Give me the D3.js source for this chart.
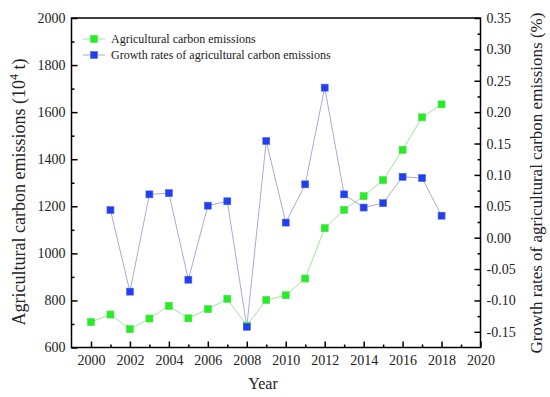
<!DOCTYPE html>
<html>
<head>
<meta charset="utf-8">
<script src="https://cdn.jsdelivr.net/npm/d3@7"></script>
<style>
  body { margin: 0; background: #fff; }
  svg { font-family: "Liberation Serif", "Times New Roman", serif; }
  .axis path { display: none; }
  .axis line { stroke: #000; stroke-width: 1.5; }
  .axis text { font-size: 14px; fill: #222; font-family: "Liberation Serif", serif; }
</style>
</head>
<body>
<svg class="chart" width="550" height="397"></svg>
<script>
var years = [2000, 2001, 2002, 2003, 2004, 2005, 2006, 2007, 2008, 2009,
             2010, 2011, 2012, 2013, 2014, 2015, 2016, 2017, 2018];
var emissions = [708, 740, 678, 723, 777, 724, 763, 807, 693, 802,
                 822, 893, 1107, 1185, 1243, 1311, 1440, 1578, 1633];
var growthYears = [2001, 2002, 2003, 2004, 2005, 2006, 2007, 2008, 2009,
                   2010, 2011, 2012, 2013, 2014, 2015, 2016, 2017, 2018];
var growth = [0.044, -0.086, 0.069, 0.071, -0.067, 0.051, 0.058, -0.142, 0.154,
              0.024, 0.085, 0.239, 0.069, 0.048, 0.055, 0.097, 0.095, 0.035];

var xTicks = [2000, 2002, 2004, 2006, 2008, 2010, 2012, 2014, 2016, 2018, 2020];
var leftTicks = [600, 800, 1000, 1200, 1400, 1600, 1800, 2000];
var rightTicks = [-0.15, -0.10, -0.05, 0.00, 0.05, 0.10, 0.15, 0.20, 0.25, 0.30, 0.35];

var seriesNames = ["Agricultural carbon emissions",
                   "Growth rates of agricultural carbon emissions"];

var svg = d3.select(".chart");
var pLeft = 71.5, pRight = 480.5, pTop = 18, pBottom = 347.5;

var x = d3.scaleLinear().domain([1999, 2020]).range([pLeft, pRight]);
var yL = d3.scaleLinear().domain([600, 2000]).range([pBottom, pTop]);
var yR = d3.scaleLinear().domain([-0.175, 0.35]).range([pBottom, pTop]);

var fmtR = function(d) { return Math.abs(d) < 1e-9 ? "0.00" : d.toFixed(2); };

// minor ticks
svg.append("g").attr("class", "axis")
    .attr("transform", "translate(0," + pBottom + ")")
    .call(d3.axisBottom(x).tickValues(d3.range(2001, 2020, 2)).tickSize(-3).tickFormat(""));
svg.append("g").attr("class", "axis")
    .attr("transform", "translate(" + pLeft + ",0)")
    .call(d3.axisLeft(yL).tickValues(d3.range(700, 2000, 200)).tickSize(-3).tickFormat(""));
svg.append("g").attr("class", "axis")
    .attr("transform", "translate(" + pRight + ",0)")
    .call(d3.axisRight(yR).tickValues(d3.range(-0.125, 0.35, 0.05)).tickSize(-3).tickFormat(""));

// major ticks
svg.append("g").attr("class", "axis")
    .attr("transform", "translate(0," + pBottom + ")")
    .call(d3.axisBottom(x).tickValues(xTicks).tickSize(-6).tickPadding(8).tickFormat(d3.format("d")));
svg.append("g").attr("class", "axis")
    .attr("transform", "translate(" + pLeft + ",0)")
    .call(d3.axisLeft(yL).tickValues(leftTicks).tickSize(-6).tickPadding(6).tickFormat(d3.format("d")));
svg.append("g").attr("class", "axis")
    .attr("transform", "translate(" + pRight + ",0)")
    .call(d3.axisRight(yR).tickValues(rightTicks).tickSize(-6).tickPadding(6).tickFormat(fmtR));

// frame
svg.append("rect")
    .attr("x", pLeft).attr("y", pTop)
    .attr("width", pRight - pLeft).attr("height", pBottom - pTop)
    .attr("fill", "none").attr("stroke", "#000").attr("stroke-width", 1.5);

// lines
var lineL = d3.line().x(function(d, i) { return x(years[i]); }).y(function(d) { return yL(d); });
var lineR = d3.line().x(function(d, i) { return x(growthYears[i]); }).y(function(d) { return yR(d); });

svg.append("path").datum(emissions).attr("d", lineL)
    .attr("fill", "none").attr("stroke", "#9fe59f").attr("stroke-width", 1);
svg.append("path").datum(growth).attr("d", lineR)
    .attr("fill", "none").attr("stroke", "#a6add6").attr("stroke-width", 1);

var s = 7;
svg.append("g").selectAll("rect")
    .data(emissions).enter().append("rect")
    .attr("x", function(d, i) { return x(years[i]) - s / 2; })
    .attr("y", function(d) { return yL(d) - s / 2; })
    .attr("width", s).attr("height", s)
    .attr("fill", "#22f022").attr("stroke", "#55d855").attr("stroke-width", 0.6);
svg.append("g").selectAll("rect")
    .data(growth).enter().append("rect")
    .attr("x", function(d, i) { return x(growthYears[i]) - s / 2; })
    .attr("y", function(d) { return yR(d) - s / 2; })
    .attr("width", s).attr("height", s)
    .attr("fill", "#1f3ff0").attr("stroke", "#5566dd").attr("stroke-width", 0.6);

// legend
var legend = svg.append("g");
var legColors = [["#9fe59f", "#22f022", "#55d855"], ["#a6add6", "#1f3ff0", "#5566dd"]];
seriesNames.forEach(function(name, i) {
    var ly = 39 + i * 16;
    legend.append("line").attr("x1", 83).attr("x2", 105).attr("y1", ly).attr("y2", ly)
        .attr("stroke", legColors[i][0]).attr("stroke-width", 1);
    legend.append("rect").attr("x", 94 - s / 2).attr("y", ly - s / 2)
        .attr("width", s).attr("height", s)
        .attr("fill", legColors[i][1]).attr("stroke", legColors[i][2]).attr("stroke-width", 0.6);
    legend.append("text").attr("x", 111).attr("y", ly).attr("dy", "0.35em")
        .attr("font-size", 12).attr("fill", "#222").text(name);
});

// axis titles
var lt = svg.append("text")
    .attr("transform", "translate(25,192) rotate(-90)")
    .attr("text-anchor", "middle").attr("font-size", 18).attr("fill", "#222");
lt.append("tspan").text("Agricultural carbon emissions (10");
lt.append("tspan").attr("dy", -7).attr("font-size", 12).text("4");
lt.append("tspan").attr("dy", 7).text(" t)");

svg.append("text")
    .attr("transform", "translate(542,183) rotate(-90)")
    .attr("text-anchor", "middle").attr("font-size", 17).attr("fill", "#222")
    .text("Growth rates of agricultural carbon emissions (%)");

svg.append("text")
    .attr("x", 263).attr("y", 389)
    .attr("text-anchor", "middle").attr("font-size", 16).attr("fill", "#222")
    .text("Year");
</script>
</body>
</html>
